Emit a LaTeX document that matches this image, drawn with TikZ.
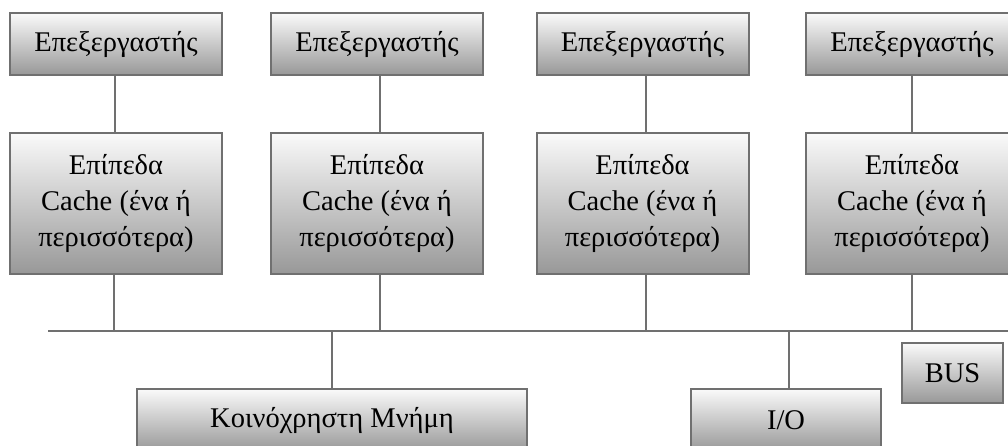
\documentclass[tikz,border=0pt]{standalone}
\usepackage{fontspec}
\setmainfont{Liberation Serif}
\begin{document}
\begin{tikzpicture}[x=1pt,y=-1pt,
  box/.style={draw=boxline, line width=2pt, top color=boxtop, bottom color=boxbottom,
    inner sep=0pt, align=center, font=\fontsize{28.5}{36}\selectfont},
  cpu/.style={box, minimum width=212pt, minimum height=62pt},
  cache/.style={box, minimum width=212pt, minimum height=141pt},
  wire/.style={draw=boxline, line width=2pt}]
\definecolor{boxline}{RGB}{112,112,112}
\definecolor{boxtop}{RGB}{250,250,250}
\definecolor{boxbottom}{RGB}{152,152,152}
\path[use as bounding box] (0,0) rectangle (1008,446);
\clip (0,0) rectangle (1008,446);

% processors
\node[cpu] (p1) at (116,44) {Επεξεργαστής};
\node[cpu] (p2) at (377,44) {Επεξεργαστής};
\node[cpu] (p3) at (642.5,44) {Επεξεργαστής};
\node[cpu] (p4) at (912,44) {Επεξεργαστής};

% cache levels
\node[cache] (c1) at (116,203.5) {Επίπεδα\\Cache (ένα ή\\περισσότερα)};
\node[cache] (c2) at (377,203.5) {Επίπεδα\\Cache (ένα ή\\περισσότερα)};
\node[cache] (c3) at (642.5,203.5) {Επίπεδα\\Cache (ένα ή\\περισσότερα)};
\node[cache] (c4) at (912,203.5) {Επίπεδα\\Cache (ένα ή\\περισσότερα)};

% shared memory, I/O and bus label
\node[box, minimum width=390pt, minimum height=62pt] (mem) at (332,420) {Κοινόχρηστη Μνήμη};
\node[box, minimum width=190pt, minimum height=62pt] (io) at (786,420) {I/O};
\node[box, minimum width=101pt, minimum height=60pt] (bus) at (952.5,373) {BUS};

% system bus
\coordinate (busL) at (48,331);
\coordinate (busR) at (1012,331);
\draw[wire] (busL) -- (busR);

% processor to cache
\draw[wire] ([xshift=-1pt]p1.south) -- ([xshift=-1pt]c1.north);
\draw[wire] ([xshift=3pt]p2.south) -- ([xshift=3pt]c2.north);
\draw[wire] ([xshift=3.5pt]p3.south) -- ([xshift=3.5pt]c3.north);
\draw[wire] (p4.south) -- (c4.north);

% cache to bus
\draw[wire] ([xshift=-2pt]c1.south) -- ([xshift=-2pt]c1.south |- busL);
\draw[wire] ([xshift=3pt]c2.south) -- ([xshift=3pt]c2.south |- busL);
\draw[wire] ([xshift=3.5pt]c3.south) -- ([xshift=3.5pt]c3.south |- busL);
\draw[wire] (c4.south) -- (c4.south |- busL);

% bus to memory and I/O
\coordinate (iotap) at (789,331);
\draw[wire] (mem.north |- busL) -- (mem.north);
\draw[wire] (iotap) -- (iotap |- io.north);
\end{tikzpicture}
\end{document}
